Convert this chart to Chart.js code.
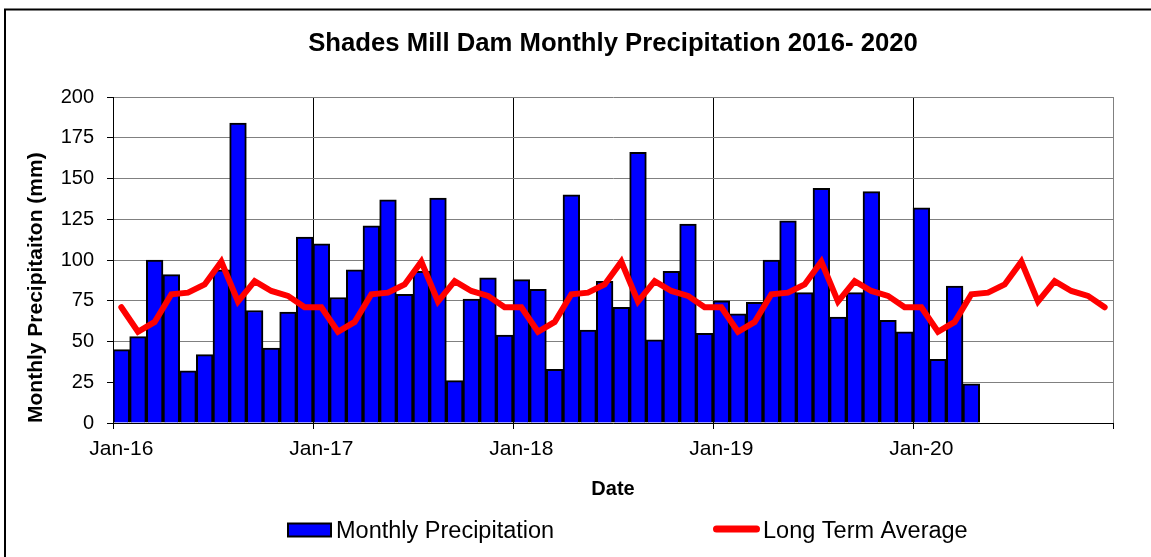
<!DOCTYPE html>
<html>
<head>
<meta charset="utf-8">
<script src="https://cdn.jsdelivr.net/npm/chart.js@4.4.1/dist/chart.umd.min.js"></script>
<style>
  html, body { margin: 0; padding: 0; background: #ffffff; }
  canvas { display: block; }
</style>
</head>
<body>
<canvas id="c" width="1151" height="557"></canvas>
<script>
// ---- Data ----
const monthLabels = [
  'Jan-16','Feb-16','Mar-16','Apr-16','May-16','Jun-16','Jul-16','Aug-16','Sep-16','Oct-16','Nov-16','Dec-16',
  'Jan-17','Feb-17','Mar-17','Apr-17','May-17','Jun-17','Jul-17','Aug-17','Sep-17','Oct-17','Nov-17','Dec-17',
  'Jan-18','Feb-18','Mar-18','Apr-18','May-18','Jun-18','Jul-18','Aug-18','Sep-18','Oct-18','Nov-18','Dec-18',
  'Jan-19','Feb-19','Mar-19','Apr-19','May-19','Jun-19','Jul-19','Aug-19','Sep-19','Oct-19','Nov-19','Dec-19',
  'Jan-20','Feb-20','Mar-20','Apr-20','May-20','Jun-20','Jul-20','Aug-20','Sep-20','Oct-20','Nov-20','Dec-20'
];

const monthlyPrecipitation = [
  45, 53, 100, 91, 32, 42, 94, 184, 69, 46, 68, 114,
  110, 77, 94, 121, 137, 79, 93, 138, 26, 76, 89, 54,
  88, 82, 33, 140, 57, 87, 71, 166, 51, 93, 122, 55,
  75, 67, 74, 100, 124, 80, 144, 65, 80, 142, 63, 56,
  132, 39, 84, 24
];

const longTermAverage = [
  71, 56, 62, 79, 80, 85, 99, 74.5, 87, 81, 78, 71,
  71, 56, 62, 79, 80, 85, 99, 74.5, 87, 81, 78, 71,
  71, 56, 62, 79, 80, 85, 99, 74.5, 87, 81, 78, 71,
  71, 56, 62, 79, 80, 85, 99, 74.5, 87, 81, 78, 71,
  71, 56, 62, 79, 80, 85, 99, 74.5, 87, 81, 78, 71
];

const yearTickLabels = ['Jan-16', 'Jan-17', 'Jan-18', 'Jan-19', 'Jan-20', ''];

// ---- Chart ----
const FONT = "'Liberation Sans', Arial, Helvetica, sans-serif";
Chart.defaults.font.family = FONT;
Chart.defaults.color = '#000000';

// each month occupies one unit on a linear axis; the mark sits at its centre
const barPoints = monthlyPrecipitation.map((v, i) => ({ x: i + 0.5, y: v, m: monthLabels[i] }));
const linePoints = longTermAverage.map((v, i) => ({ x: i + 0.5, y: v, m: monthLabels[i] }));

const framePlugin = {
  id: 'frame',
  beforeDraw(chart) {
    const c = chart.ctx;
    c.save();
    c.fillStyle = '#ffffff';
    c.fillRect(0, 0, chart.width, chart.height);
    c.strokeStyle = '#000000';
    c.lineWidth = 2;
    c.strokeRect(5, 9.5, chart.width + 20, chart.height + 20);
    c.restore();
  }
};

// legend entries laid out like the original (built from the datasets)
const legendSlots = [
  { x: 288, w: 43, textX: 336 },
  { x: 713, w: 47, textX: 763 }
];
const legendPlugin = {
  id: 'wideLegend',
  afterDraw(chart) {
    const c = chart.ctx;
    const cy = 530;
    c.save();
    chart.data.datasets.forEach((ds, i) => {
      const s = legendSlots[i];
      if (ds.type === 'bar') {
        c.fillStyle = ds.backgroundColor;
        c.fillRect(s.x, cy - 6.5, s.w, 13);
        c.strokeStyle = ds.borderColor;
        c.lineWidth = 2;
        c.strokeRect(s.x, cy - 6.5, s.w, 13);
      } else {
        c.strokeStyle = ds.borderColor;
        c.lineWidth = 7;
        c.lineCap = 'round';
        c.beginPath();
        c.moveTo(s.x + 3.5, cy - 1);
        c.lineTo(s.x + s.w - 3.5, cy - 1);
        c.stroke();
      }
      c.fillStyle = '#000000';
      c.font = '23.5px ' + FONT;
      c.textAlign = 'left';
      c.textBaseline = 'alphabetic';
      c.fillText(ds.label, s.textX, 538);
    });
    c.restore();
  }
};

new Chart(document.getElementById('c'), {
  type: 'bar',
  data: {
    datasets: [
      {
        type: 'bar',
        label: 'Monthly Precipitation',
        data: barPoints,
        backgroundColor: '#0000FF',
        borderColor: '#000000',
        borderWidth: 2,
        barPercentage: 1,
        categoryPercentage: 1,
        order: 1
      },
      {
        type: 'line',
        label: 'Long Term Average',
        data: linePoints,
        borderColor: '#FF0000',
        backgroundColor: '#FF0000',
        borderWidth: 6,
        pointRadius: 0,
        tension: 0,
        borderCapStyle: 'round',
        order: 0
      }
    ]
  },
  options: {
    responsive: false,
    animation: false,
    devicePixelRatio: 1,
    layout: { padding: { left: 0, right: 38, top: 0, bottom: 49.5 } },
    plugins: {
      title: {
        display: true,
        text: 'Shades Mill Dam Monthly Precipitation 2016- 2020',
        font: { size: 25.7, weight: 'bold' },
        color: '#000000',
        padding: { top: 28.6, bottom: 37.6 },
        fullSize: false
      },
      legend: { display: false },
      tooltip: { enabled: false }
    },
    scales: {
      x: {
        type: 'linear',
        min: 0,
        max: 60,
        offset: false,
        grid: {
          offset: false,
          color: (ctx) => (ctx.tick && ctx.tick.value === 60 ? '#808080' : '#000000'),
          tickColor: '#000000',
          tickLength: 6,
          lineWidth: 1
        },
        border: { color: '#000000', width: 1 },
        ticks: {
          stepSize: 12,
          autoSkip: false,
          maxRotation: 0,
          padding: 8,
          labelOffset: 8.33,
          font: { size: 21 },
          callback: (v) => yearTickLabels[Math.round(v / 12)]
        },
        title: {
          display: true,
          text: 'Date',
          font: { size: 20, weight: 'bold' },
          padding: { top: 0, bottom: 6 }
        },
        afterFit: (s) => { s.height = 84.5; }
      },
      y: {
        min: 0,
        max: 200,
        ticks: { stepSize: 25, padding: 13, font: { size: 20 } },
        grid: { color: '#808080', tickColor: '#000000', tickLength: 6, lineWidth: 1 },
        border: { color: '#000000', width: 1 },
        title: {
          display: true,
          text: 'Monthly Precipitaiton (mm)',
          align: 'start',
          font: { size: 21, weight: 'bold' },
          padding: { top: 24, bottom: 0 }
        },
        afterFit: (s) => { s.width = 113; }
      }
    }
  },
  plugins: [framePlugin, legendPlugin]
});
</script>
</body>
</html>
